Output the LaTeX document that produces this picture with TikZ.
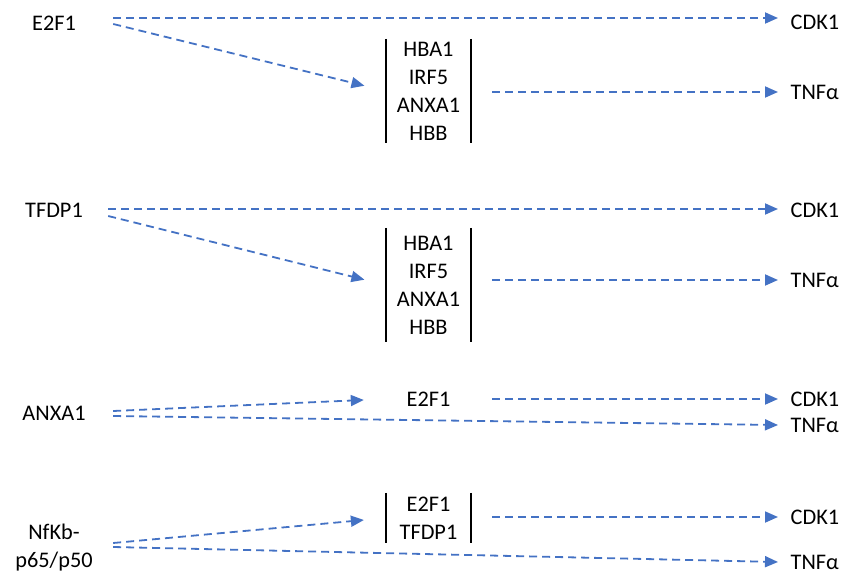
\documentclass[tikz,border=0pt]{standalone}
\usepackage{fontspec}
\setmainfont{Carlito}
\usetikzlibrary{arrows.meta, positioning}
\definecolor{flowblue}{HTML}{4472C4}

\begin{document}
\begin{tikzpicture}[x=1pt, y=-1pt, font=\fontsize{22.3}{27.9}\selectfont,
    every node/.style={inner sep=0pt},
    src/.style={minimum width=118pt},
    grp/.style={align=center, minimum width=85pt},
    tgt/.style={anchor=west, inner xsep=12.5pt},
    bar/.style={line width=1.6pt},
    flow/.style={draw=flowblue, line width=1.8pt, dash pattern=on 8pt off 5pt,
        -{Triangle[length=13pt, width=11pt]}},
    into/.style={flow, shorten >=22pt},
    outof/.style={flow, shorten <=21pt}]
\useasboundingbox (0,0) rectangle (844,573);

\node[src] (e2f1) at (54,23) {E2F1};
\node[grp, minimum height=104pt] (g1) at (428.5,91) {HBA1\\IRF5\\ANXA1\\HBB};
\node[tgt] (cdk1a) at (778,22) {CDK1};
\node[tgt] (tnfa) at (778,92) {TNFα};
\draw[bar] (g1.north west) -- (g1.south west) (g1.north east) -- (g1.south east);
\draw[flow] ([yshift=5pt]e2f1.east) -- ([yshift=5pt]e2f1.east -| cdk1a.west);
\draw[into] ([yshift=-1pt]e2f1.east) -- (g1.west);
\draw[outof] (tnfa.west -| g1.east) -- (tnfa.west);

\node[src, minimum width=108pt] (tfdp1) at (54,210) {TFDP1};
\node[grp, minimum height=114pt] (g2) at (428.5,285) {HBA1\\IRF5\\ANXA1\\HBB};
\node[tgt] (cdk1b) at (778,210) {CDK1};
\node[tgt] (tnfb) at (778,280) {TNFα};
\draw[bar] (g2.north west) -- (g2.south west) (g2.north east) -- (g2.south east);
\draw[flow] ([yshift=1pt]tfdp1.east) -- ([yshift=1pt]tfdp1.east -| cdk1b.west);
\draw[into] ([yshift=-6pt]tfdp1.east) -- (g2.west);
\draw[outof] (tnfb.west -| g2.east) -- (tnfb.west);

\node[src] (anxa1) at (54,413) {ANXA1};
\node[grp] (e2f1m) at (428.5,399) {E2F1};
\node[tgt] (cdk1c) at (778,399) {CDK1};
\node[tgt] (tnfc) at (778,425) {TNFα};
\draw[into] ([yshift=2pt]anxa1.east) -- (e2f1m.west);
\draw[outof] (e2f1m.east) -- (cdk1c.west);
\draw[flow] ([yshift=-3pt]anxa1.east) -- (tnfc.west);

\node[src, align=center] (nfkb) at (54,547.5) {NfKb-\\p65/p50};
\node[grp, minimum height=50pt] (g4) at (428.5,518) {E2F1\\TFDP1};
\node[tgt] (cdk1d) at (778,517) {CDK1};
\node[tgt] (tnfd) at (778,562) {TNFα};
\draw[bar] (g4.north west) -- (g4.south west) (g4.north east) -- (g4.south east);
\draw[into] ([yshift=4.5pt]nfkb.east) -- (g4.west);
\draw[outof] (cdk1d.west -| g4.east) -- (cdk1d.west);
\draw[flow] ([yshift=0.5pt]nfkb.east) -- (tnfd.west);
\end{tikzpicture}
\end{document}
